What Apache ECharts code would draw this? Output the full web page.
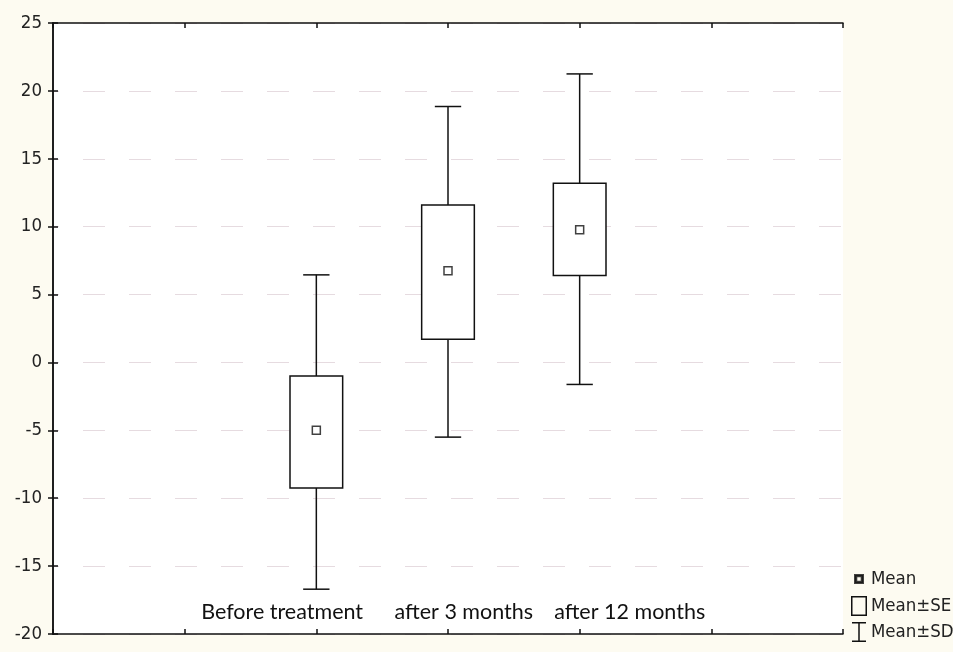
<!DOCTYPE html>
<html><head><meta charset="utf-8">
<script src="https://cdn.jsdelivr.net/npm/echarts@6/dist/echarts.min.js"></script>
<style>html,body{margin:0;padding:0;background:#fdfbf1;}#c{width:953px;height:652px;}</style>
</head><body><div id="c"></div>
<script>
const categories = ['Before treatment', 'after 3 months', 'after 12 months'];
const xPos = [2, 3, 4];
const means = [-5.0, 6.75, 9.78];
const seLow = [-9.25, 1.7, 6.4];
const seHigh = [-1.0, 11.6, 13.2];
const sdLow = [-16.7, -5.5, -1.62];
const sdHigh = [6.45, 18.85, 21.25];

const narrow = '"Liberation Sans Narrow","DejaVu Sans Condensed","Roboto Condensed",sans-serif';

const sdData = xPos.map((x, i) => [x, sdLow[i], sdHigh[i]]);
const seData = xPos.map((x, i) => [x, seLow[i], seHigh[i]]);
const meanData = xPos.map((x, i) => [x, means[i]]);

const chart = echarts.init(document.getElementById('c'));
const ax = {
  type: 'value', min: 0, max: 6, interval: 1,
  axisLine: { show: true, onZero: false, lineStyle: { color: '#111', width: 1.5 } },
  axisTick: { show: true, inside: true, length: 5, lineStyle: { color: '#111', width: 1.5 } },
  axisLabel: { show: false }, splitLine: { show: false }
};
chart.setOption({
  backgroundColor: '#fdfbf1',
  animation: false,
  grid: { left: 53, right: 110, top: 23, bottom: 18, show: true, backgroundColor: '#ffffff', borderWidth: 0 },
  xAxis: [
    Object.assign({}, ax, { position: 'bottom' }),
    Object.assign({}, ax, { position: 'top' })
  ],
  yAxis: [
    {
      type: 'value', min: -20, max: 25, interval: 5, position: 'left',
      axisLine: { show: true, lineStyle: { color: '#111', width: 1.5 } },
      axisTick: { show: true, inside: true, length: 5, lineStyle: { color: '#111', width: 1.5 } },
      axisLabel: { color: '#222', fontSize: 18.5, fontFamily: narrow, margin: 11 },
      splitLine: { show: true, lineStyle: { color: '#e6dbe0', width: 1, type: [22, 24], dashOffset: -30 } }
    },
    {
      type: 'value', min: -20, max: 25, interval: 5, position: 'right',
      axisLine: { show: true, lineStyle: { color: '#111', width: 1.5 } },
      axisTick: { show: true, inside: true, length: 5, lineStyle: { color: '#111', width: 1.5 } },
      axisLabel: { show: false }, splitLine: { show: false }
    }
  ],
  legend: {
    orient: 'vertical', left: 850, top: 568, padding: 0,
    itemWidth: 16, itemHeight: 20, itemGap: 6, selectedMode: false,
    textStyle: { color: '#222', fontSize: 18.5, fontFamily: narrow, padding: [0, 0, 0, -1] },
    data: [
      { name: 'Mean', icon: 'path://M0,0M16,20M4,6H12V14H4Z M5.3,7.3V12.7H10.7V7.3Z', itemStyle: { color: '#111' } },
      { name: 'Mean±SE', icon: 'path://M0,0H16V20H0Z M1.5,1.5V18.5H14.5V1.5Z', itemStyle: { color: '#111' } },
      { name: 'Mean±SD', icon: 'path://M1,0H15V1.5H8.75V18.5H15V20H1V18.5H7.25V1.5H1Z M0,0M16,20', itemStyle: { color: '#111' } }
    ]
  },
  series: [
    {
      name: 'Mean±SD', type: 'custom', data: sdData, itemStyle: { color: '#111' },
      encode: { x: 0, y: [1, 2] },
      renderItem: function (params, api) {
        const x = api.value(0);
        const lo = api.coord([x, api.value(1)]);
        const hi = api.coord([x, api.value(2)]);
        const w = api.size([1, 0])[0] * 0.2;
        const st = { stroke: '#111', lineWidth: 1.5, fill: null };
        return { type: 'group', children: [
          { type: 'line', shape: { x1: lo[0], y1: lo[1], x2: hi[0], y2: hi[1] }, style: st },
          { type: 'line', shape: { x1: lo[0] - w / 2, y1: lo[1], x2: lo[0] + w / 2, y2: lo[1] }, style: st },
          { type: 'line', shape: { x1: hi[0] - w / 2, y1: hi[1], x2: hi[0] + w / 2, y2: hi[1] }, style: st }
        ] };
      }
    },
    {
      name: 'Mean±SE', type: 'custom', data: seData, itemStyle: { color: '#111' },
      encode: { x: 0, y: [1, 2] },
      renderItem: function (params, api) {
        const x = api.value(0);
        const lo = api.coord([x, api.value(1)]);
        const hi = api.coord([x, api.value(2)]);
        const w = api.size([1, 0])[0] * 0.4;
        return { type: 'rect', shape: { x: lo[0] - w / 2, y: hi[1], width: w, height: lo[1] - hi[1] },
          style: { fill: '#ffffff', stroke: '#111', lineWidth: 1.5 } };
      }
    },
    {
      name: 'Mean', type: 'scatter', data: meanData, symbol: 'rect', symbolSize: 8,
      itemStyle: { color: '#ffffff', borderColor: '#111', borderWidth: 1.5 }
    }
  ]
});

// category labels placed inside the plot, near the bottom
const labelOffsets = [-0.26, 0.12, 0.38];
const gfx = categories.map((c, i) => {
  const p = chart.convertToPixel({ xAxisIndex: 0, yAxisIndex: 0 }, [xPos[i] + labelOffsets[i], -18.4]);
  return { type: 'text', x: p[0], y: p[1], style: { text: c, fill: '#111', fontSize: 21.5, fontFamily: 'Lato, "Open Sans", sans-serif', textAlign: 'center', textVerticalAlign: 'middle' } };
});
chart.setOption({ graphic: gfx });
</script>
</body></html>
